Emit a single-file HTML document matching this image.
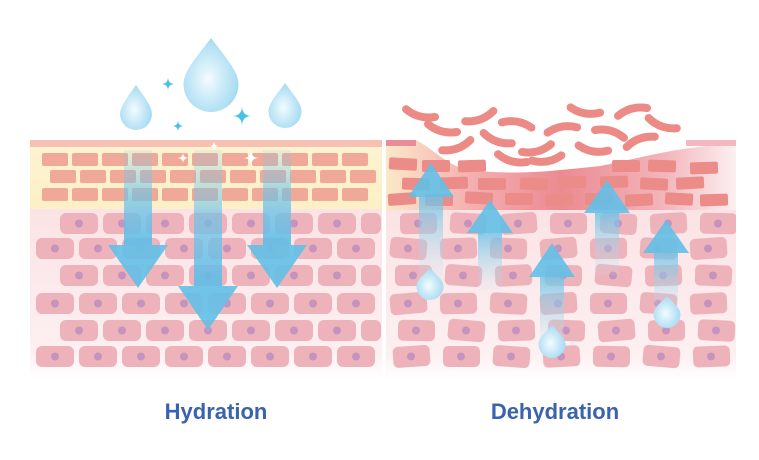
<!DOCTYPE html>
<html><head><meta charset="utf-8"><style>
html,body{margin:0;padding:0;background:#fff;width:759px;height:460px;overflow:hidden}
svg{display:block}
</style></head><body>
<svg id="s" width="759" height="460" viewBox="0 0 759 460" xmlns="http://www.w3.org/2000/svg">
<defs>
<linearGradient id="yel" x1="0" y1="0" x2="0" y2="1"><stop offset="0" stop-color="#fdf3d0"/><stop offset="1" stop-color="#fdf0c8"/></linearGradient>
<linearGradient id="fadeL" x1="0" y1="0" x2="0" y2="1"><stop offset="0" stop-color="#fbe3e5"/><stop offset="0.85" stop-color="#fdf0f1"/><stop offset="1" stop-color="#fff"/></linearGradient>
<linearGradient id="redband" x1="0" y1="0" x2="1" y2="0"><stop offset="0" stop-color="#fbe8c8"/><stop offset="0.25" stop-color="#f4aeb0"/><stop offset="0.5" stop-color="#ec8a92"/><stop offset="0.8" stop-color="#f3b6bc"/><stop offset="1" stop-color="#fdf0f1"/></linearGradient>
<linearGradient id="shaftD" x1="0" y1="0" x2="0" y2="1"><stop offset="0" stop-color="#7ccbea" stop-opacity="0.15"/><stop offset="0.5" stop-color="#6cc3e8" stop-opacity="0.7"/><stop offset="1" stop-color="#5dbde8" stop-opacity="0.9"/></linearGradient>
<linearGradient id="shaftU" x1="0" y1="1" x2="0" y2="0"><stop offset="0" stop-color="#bfe3f3" stop-opacity="0.1"/><stop offset="1" stop-color="#6cc3e8" stop-opacity="0.8"/></linearGradient>
<radialGradient id="drop" cx="0.45" cy="0.55" r="0.6"><stop offset="0" stop-color="#f4fbff"/><stop offset="0.6" stop-color="#bfe6f6"/><stop offset="1" stop-color="#9fd9f1"/></radialGradient>
<clipPath id="rc"><rect x="386" y="100" width="350" height="290"/></clipPath>
</defs>
<g id="bg">
<rect x="30" y="140" width="352" height="7" fill="#f6c0b2"/>
<rect x="30" y="147" width="352" height="62" fill="url(#yel)"/>
<rect x="30" y="209" width="352" height="170" fill="url(#fadeL)"/>
<rect x="386" y="140" width="350" height="70" fill="url(#redband)"/>
<rect x="386" y="210" width="350" height="170" fill="url(#fadeL)"/>
<path d="M416 140 C435 150 450 168 470 170 C520 176 560 170 600 166 C640 158 680 146 736 144 L736 140 Z" fill="#fff"/>
<rect x="386" y="140" width="30" height="6" fill="#e88c98"/>
<rect x="686" y="140" width="50" height="6" fill="#f3b8c0"/>
</g>
<g id="cells"></g>
<g id="rcells" clip-path="url(#rc)"></g>
<g id="arrows"></g>
<text x="216" y="419" text-anchor="middle" font-family="Liberation Sans, sans-serif" font-weight="bold" font-size="22" fill="#3a62ad">Hydration</text>
<text x="555" y="419" text-anchor="middle" font-family="Liberation Sans, sans-serif" font-weight="bold" font-size="22" fill="#3a62ad">Dehydration</text>
</svg>
<script>
var NS="http://www.w3.org/2000/svg";
function el(p,t,a){var e=document.createElementNS(NS,t);for(var k in a)e.setAttribute(k,a[k]);p.appendChild(e);return e;}
var C=document.getElementById('cells'),R=document.getElementById('rcells'),A=document.getElementById('arrows');
var br=[[153,42],[170,50],[188,42]];
br.forEach(function(r){for(var x=r[1];x+27<=382;x+=30)el(C,'rect',{x:x,y:r[0],width:26,height:13,rx:2,fill:'#f0a898'});});
var rows=[[213,60],[238,36],[265,60],[293,36],[320,60],[346,36]];
rows.forEach(function(r){for(var x=r[1];x<380;x+=43){var w=Math.min(38,381-x);el(C,'rect',{x:x,y:r[0],width:w,height:21,rx:6,fill:'#eeb3ba'});if(w>20)el(C,'circle',{cx:x+19,cy:r[0]+10.5,r:4,fill:'#c594be'});}});
var rb=[[389,158,3],[422,160,0],[458,160,-2],[612,160,0],[648,160,2],[690,162,-2],
[402,178,2],[440,177,-2],[478,178,0],[520,178,2],[558,176,0],[600,176,-2],[640,178,3],[676,177,-3],
[388,193,-4],[425,194,0],[465,192,3],[505,193,0],[545,194,-3],[585,193,0],[625,194,-3],[665,193,3],[700,194,-2]];
rb.forEach(function(b){el(R,'rect',{x:b[0],y:b[1],width:28,height:12,rx:2,fill:'#ec8c88',transform:'rotate('+b[2]+' '+(b[0]+14)+' '+(b[1]+6)+')'});});
var fl=[[442,130,15,1],[457,147,-20,1],[517,123,10,-1],[497,140,20,1],[537,150,-15,1],[512,160,15,1],[562,128,-10,-1],[547,160,-10,1],[610,132,15,-1],[593,150,10,1],[640,140,-20,-1],[662,125,20,1],[480,118,-20,1],[585,112,10,1],[632,110,-15,-1],[420,115,15,1]];
fl.forEach(function(f){var s=f[3]*4;el(R,'path',{d:'M'+(f[0]-15)+' '+(f[1]-s/2)+' Q'+f[0]+' '+(f[1]+s*1.2)+' '+(f[0]+15)+' '+(f[1]-s/2),fill:'none',stroke:'#ec8a86','stroke-width':8,'stroke-linecap':'round',transform:'rotate('+f[2]+' '+f[0]+' '+f[1]+')'});});
var rr=[[213,400],[238,390],[265,395],[293,390],[320,398],[346,393]];
var k=0;
rr.forEach(function(r){for(var x=r[1];x<725;x+=50){k++;var rot=((k*37)%11)-5;el(R,'rect',{x:x,y:r[0],width:37,height:21,rx:5,fill:'#eeb3ba',transform:'rotate('+rot+' '+(x+18)+' '+(r[0]+10)+')'});el(R,'circle',{cx:x+18,cy:r[0]+10.5,r:4,fill:'#c594be'});}});
function down(cx,y0,hb,tip,sw,hw){el(A,'rect',{x:cx-sw/2,y:y0,width:sw,height:hb-y0,fill:'url(#shaftD)'});el(A,'polygon',{points:(cx-hw)+','+hb+' '+(cx+hw)+','+hb+' '+cx+','+tip,fill:'#62c0e8','fill-opacity':0.9});}
down(138,150,245,288,28,30);down(208,150,286,330,28,30);down(277,150,245,288,28,30);
function up(cx,tip,hb,y1,sw,hw){el(A,'rect',{x:cx-sw/2,y:hb,width:sw,height:y1-hb,fill:'url(#shaftU)'});el(A,'polygon',{points:(cx-hw)+','+hb+' '+(cx+hw)+','+hb+' '+cx+','+tip,fill:'#62c0e8','fill-opacity':0.9});}
up(431,163,197,280,24,23);up(490,200,233,290,24,23);up(552,243,277,345,24,23);up(607,180,213,275,24,23);up(666,220,253,310,24,23);
function drop(cx,top,bot,w){var r=w/2,cy=bot-r;el(A,'path',{d:'M'+cx+' '+top+' C'+(cx+r*0.5)+' '+(top+(cy-top)*0.4)+' '+(cx+r)+' '+(cy-r*0.5)+' '+(cx+r)+' '+cy+' A'+r+' '+r+' 0 0 1 '+(cx-r)+' '+cy+' C'+(cx-r)+' '+(cy-r*0.5)+' '+(cx-r*0.5)+' '+(top+(cy-top)*0.4)+' '+cx+' '+top+'Z',fill:'url(#drop)'});}
drop(211,38,112,55);drop(136,85,130,32);drop(285,83,128,33);
drop(430,268,300,27);drop(552,325,358,27);drop(667,296,328,27);
function spark(x,y,s,c){el(A,'path',{d:'M'+x+' '+(y-s)+' Q'+x+' '+y+' '+(x+s)+' '+y+' Q'+x+' '+y+' '+x+' '+(y+s)+' Q'+x+' '+y+' '+(x-s)+' '+y+' Q'+x+' '+y+' '+x+' '+(y-s)+'Z',fill:c});}
spark(168,84,7,'#4bbfe8');spark(178,126,6,'#4bbfe8');spark(242,116,10,'#4bbfe8');
spark(214,146,5,'#fff');spark(183,158,6,'#fff');spark(251,158,8,'#fff');
</script>
</body></html>
